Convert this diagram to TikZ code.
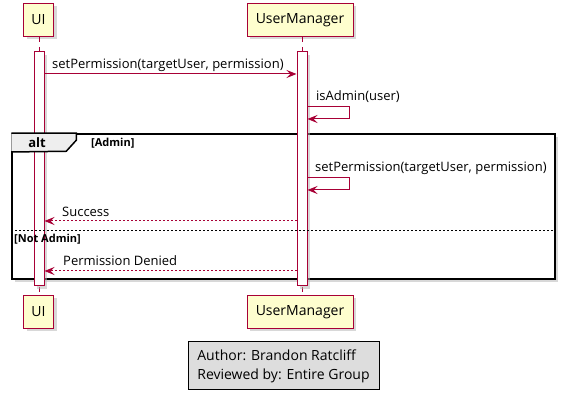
\documentclass[tikz,border=0pt]{standalone}
\usepackage{fontspec}
\setmainfont{Open Sans}
\usetikzlibrary{
    positioning,   % Relative positioning
    arrows.meta,   % Modern arrow tips
    shadows        % Drop shadows
}
\definecolor{umlred}{HTML}{A80036}
\definecolor{umlyellow}{HTML}{FEFECE}
\definecolor{tabgray}{HTML}{EEEEEE}
\definecolor{legendgray}{HTML}{DDDDDD}

\begin{document}
\begin{tikzpicture}[x=1pt, y=-1pt,
    shade/.style={drop shadow={shadow xshift=3pt, shadow yshift=-3pt, fill=black!30}},
    actor/.style={draw=umlred, fill=umlyellow, line width=1pt, minimum height=33pt,
        inner sep=0pt, font=\fontsize{14}{16}\selectfont, shade},
    actbar/.style={draw=umlred, fill=white, line width=1pt, minimum width=10pt,
        minimum height=234pt, inner sep=0pt, shade},
    lifeline/.style={draw=umlred, line width=1pt, dash pattern=on 5pt off 5pt},
    msg/.style={draw=umlred, line width=1pt, -{Stealth[length=10pt, width=8pt, inset=4pt]}},
    reply/.style={msg, dash pattern=on 2pt off 2pt},
    lbl/.style={anchor=base west, inner sep=0pt, font=\fontsize{13}{15}\selectfont},
    guard/.style={anchor=base west, inner sep=0pt, font=\bfseries\fontsize{11}{13}\selectfont}
    ]
    \useasboundingbox (0,0) rectangle (566,401);

    % alt frame behind everything
    \node[draw, fill=white, line width=1.5pt, minimum width=543pt, minimum height=145pt,
        inner sep=0pt, shade] (altFrame) at (283.5,206.5) {};

    % participants
    \node[actor, minimum width=30pt] (uiTop) at (38.5,20) {UI};
    \node[actor, minimum width=106pt] (umTop) at (300,20) {UserManager};
    \node[actor, minimum width=30pt] (uiBot) at (38.5,312) {UI};
    \node[actor, minimum width=106pt] (umBot) at (300,312) {UserManager};

    % lifelines and activations
    \draw[lifeline] (uiTop.south -| 39.5,0) -- (uiBot.north -| 39.5,0);
    \draw[lifeline] (umTop.south -| 302,0) -- (umBot.north -| 302,0);
    \node[actbar] (uiBar) at (39,169) {};
    \node[actbar] (umBar) at (302,169) {};

    % request
    \draw[msg] (uiBar.east |- 0,74) -- (umBar.west |- 0,74);
    \node[lbl] (reqLbl) at (52,69) {setPermission(targetUser, permission)};

    % self check
    \draw[msg] (umBar.east |- 0,107) -- ++(42,0) -- ++(0,12) -- (umBar.east |- 0,119);
    \node[lbl] (chkLbl) at (316,100.5) {isAdmin(user)};

    % tab of the frame
    \draw[fill=tabgray, line width=1.5pt] (altFrame.north west) -- ++(65,0) -- ++(0,7)
        -- ++(-10,11) -- (altFrame.west |- 0,152);
    \node[anchor=base, inner sep=0pt, font=\bfseries\fontsize{13}{15}\selectfont] (altLbl) at (37,147.5) {alt};
    \node[guard] (adminLbl) at (91,147) {[Admin]};

    % admin branch
    \draw[msg] (umBar.east |- 0,178) -- ++(42,0) -- ++(0,12) -- (umBar.east |- 0,190);
    \node[lbl] (setLbl) at (315,172) {setPermission(targetUser, permission)};
    \draw[reply] (umBar.west |- 0,221) -- (uiBar.east |- 0,221);
    \node[lbl] (okLbl) at (62,217) {Success};

    % separator and other branch
    \draw[line width=1pt, dash pattern=on 2pt off 2pt] (altFrame.west |- 0,231) -- (altFrame.east |- 0,231);
    \node[guard] (notLbl) at (14,243) {[Not Admin]};
    \draw[reply] (umBar.west |- 0,271) -- (uiBar.east |- 0,271);
    \node[lbl] (denyLbl) at (63,265.5) {Permission Denied};

    % legend
    \node[draw, fill=legendgray, line width=1pt, minimum width=191pt, minimum height=48pt,
        align=left, font=\fontsize{14}{19}\selectfont] (credits) at (283.5,366)
        {Author: Brandon Ratcliff\\Reviewed by: Entire Group};
\end{tikzpicture}
\end{document}
